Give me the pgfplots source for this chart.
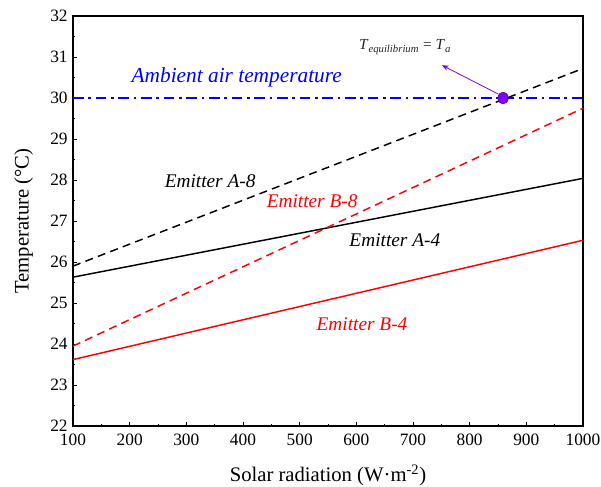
\documentclass[border=0pt]{standalone}
\usepackage{fontspec}
\setmainfont{Liberation Serif}
\usepackage{pgfplots}
\pgfplotsset{compat=1.18}
\usetikzlibrary{arrows.meta}
\definecolor{eqpurple}{RGB}{128,0,255}
\definecolor{ambblue}{RGB}{0,0,255}
\definecolor{emred}{RGB}{255,0,0}

\begin{document}
\begin{tikzpicture}
\begin{axis}[
  scale only axis,
  width=382.5pt, height=307.5pt,
  xmin=100, xmax=1000, ymin=22, ymax=32,
  xtick={100,200,...,1000}, ytick={22,23,...,32},
  minor x tick num=1, minor y tick num=1,
  tick align=inside,
  xtick pos=bottom, ytick pos=left,
  major tick length=3pt, minor tick length=1.6pt,
  every tick/.style={black, line width=0.6pt},
  axis line style={line width=0.9pt},
  tick label style={font=\fontsize{13}{14}\selectfont},
  /pgf/number format/assume math mode=true,
  /pgf/number format/1000 sep={},
  xticklabel style={yshift=-2.5pt},
  yticklabel style={xshift=-0.5pt},
  xlabel={Solar radiation (W·m\textsuperscript{-2})},
  ylabel={Temperature (°C)},
  label style={font=\fontsize{15.5}{16}\selectfont},
  xlabel style={at={(axis description cs:0.5,0)}, anchor=center, yshift=-37pt},
  ylabel style={at={(axis description cs:0,0.5)}, anchor=center, yshift=37pt},
  clip=false,
]
% ambient air temperature
\addplot[ambblue, line width=1.8pt, dash pattern=on 8pt off 3.5pt on 2pt off 3.5pt]
  coordinates {(100,30) (1000,30)};
% emitter B-4
\addplot[emred, line width=1.1pt] coordinates {(100,23.62) (1000,26.53)};
% emitter A-4
\addplot[black, line width=1.1pt] coordinates {(100,25.63) (1000,28.04)};
% emitter B-8
\addplot[emred, line width=1.1pt, dash pattern=on 6pt off 4pt] coordinates {(100,23.95) (1000,29.75)};
% emitter A-8
\addplot[black, line width=1.1pt, dash pattern=on 6pt off 4pt] coordinates {(100,25.9) (1000,30.72)};
% equilibrium point
\addplot[eqpurple, only marks, mark=*, mark size=3.9pt,
  mark options={draw=eqpurple!60!black, fill=eqpurple, line width=0.4pt, yscale=1.15}]
  coordinates {(859,30)};
\draw[eqpurple, line width=0.6pt, -{Stealth[length=5pt,width=4pt]}]
  (axis cs:850,30.1) -- (axis cs:751,30.8);
\node[font=\fontsize{11.5}{12}\selectfont, text=black!85] at (axis cs:686,31.24)
  {\textit{T}\textsubscript{\textit{equilibrium}} = \textit{T}\textsubscript{\textit{a}}};
% curve labels
\node[ambblue, font=\fontsize{16}{17}\selectfont\itshape] at (axis cs:389,30.51) {Ambient air temperature};
\node[black, font=\fontsize{14.5}{15}\selectfont\itshape] at (axis cs:342,27.98) {Emitter A-8};
\node[emred, font=\fontsize{14.5}{15}\selectfont\itshape] at (axis cs:522,27.49) {Emitter B-8};
\node[black, font=\fontsize{14.5}{15}\selectfont\itshape] at (axis cs:668,26.54) {Emitter A-4};
\node[emred, font=\fontsize{14.5}{15}\selectfont\itshape] at (axis cs:610,24.49) {Emitter B-4};
\coordinate (bl) at (rel axis cs:0,0);
\coordinate (tr) at (rel axis cs:1,1);
\end{axis}
\pgfresetboundingbox
\path ([shift={(-54.75pt,-45pt)}]bl) rectangle ([shift={(13.5pt,12pt)}]tr);
\end{tikzpicture}
\end{document}
